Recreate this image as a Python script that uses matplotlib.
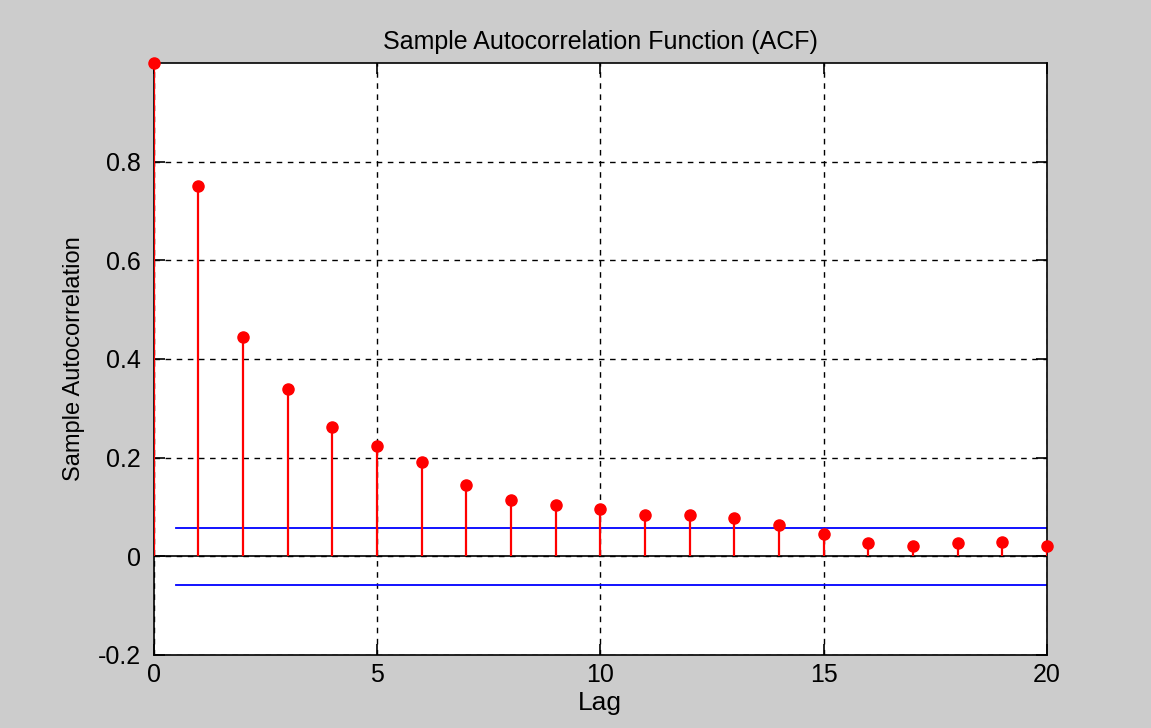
import matplotlib
matplotlib.use("Agg")
import matplotlib.pyplot as plt

# Sample ACF values
lags = list(range(0, 21))
acf_values = [1.0, 0.75, 0.444, 0.339, 0.262, 0.224, 0.192, 0.145, 0.114, 0.104,
              0.096, 0.084, 0.084, 0.078, 0.064, 0.046, 0.026, 0.020, 0.026, 0.029, 0.020]
# confidence bounds
upper_bound = 0.058
lower_bound = -0.058
bound_lags = [0.5, 20]

plt.rcParams['font.family'] = ['Liberation Sans', 'DejaVu Sans']

fig = plt.figure(figsize=(11.51, 7.28), dpi=100, facecolor="#cccccc")
ax = fig.add_axes([0.1334, 0.1003, 0.7762, 0.8132])
ax.set_facecolor("white")

# stems
ax.vlines(lags, 0, acf_values, colors="red", linewidth=1.6, zorder=3)
ax.plot(lags, acf_values, "o", color="red", markersize=8, zorder=4, clip_on=False)
ax.axhline(0, color="black", linewidth=1.2, zorder=2)

ax.plot(bound_lags, [upper_bound, upper_bound], color="blue", linewidth=1.3, zorder=2)
ax.plot(bound_lags, [lower_bound, lower_bound], color="blue", linewidth=1.3, zorder=2)

ax.set_xlim(0, 20)
ax.set_ylim(-0.2, 1.0)
ax.set_xticks([0, 5, 10, 15, 20])
ax.set_yticks([-0.2, 0, 0.2, 0.4, 0.6, 0.8])
ax.set_yticklabels(["-0.2", "0", "0.2", "0.4", "0.6", "0.8"])

ax.grid(True, color="black", linestyle=(0, (4, 4)), linewidth=1.0)
ax.tick_params(direction="in", length=8, width=1.2, labelsize=18, colors="black",
               top=True, right=True)
ax.tick_params(axis="x", pad=6)
ax.tick_params(axis="y", pad=9)
for spine in ax.spines.values():
    spine.set_linewidth(1.2)

ax.set_title("Sample Autocorrelation Function (ACF)", fontsize=18, pad=10)
ax.set_xlabel("Lag", fontsize=19, labelpad=3)
ax.set_ylabel("Sample Autocorrelation", fontsize=17, labelpad=9)

plt.savefig("out.png", dpi=100, facecolor=fig.get_facecolor())
